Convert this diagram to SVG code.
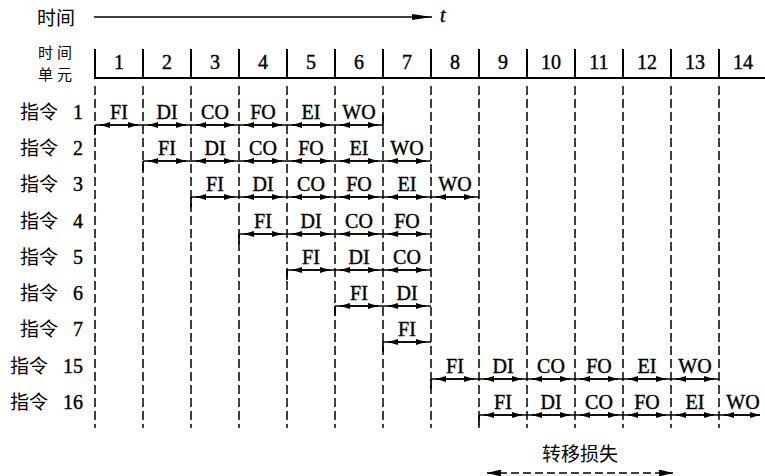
<svg xmlns="http://www.w3.org/2000/svg" width="765" height="476" viewBox="0 0 765 476">
<style>
.cn{font-family:"Noto Sans CJK SC","Noto Sans CJK JP",sans-serif;font-size:19px;fill:#000}
.cn2{font-family:"Noto Sans CJK SC","Noto Sans CJK JP",sans-serif;font-size:15px;letter-spacing:4px;fill:#000}
.lt{font-family:"Liberation Serif","Times New Roman",serif;font-size:20px;fill:#000;stroke:#000;stroke-width:0.4}
.st{text-anchor:middle}
.en{text-anchor:end}
.dash{stroke:#000;stroke-width:1.5;stroke-dasharray:9 4;fill:none}
.solid{stroke:#000;stroke-width:2;fill:none}
.base{stroke:#000;stroke-width:1.7;fill:none}
.arr{stroke:#000;stroke-width:1.7;fill:none;marker-start:url(#ah);marker-end:url(#ah)}
.tick{stroke:#000;stroke-width:1.7}
</style>
<defs>
<marker id="ah" viewBox="0 0 10 6" refX="10" refY="3" markerWidth="10" markerHeight="6" markerUnits="userSpaceOnUse" orient="auto-start-reverse">
<path d="M0,0 L10,3 L0,6 z" fill="#000"/>
</marker>
<marker id="ahl" viewBox="0 0 20 6" refX="20" refY="3" markerWidth="20" markerHeight="6" markerUnits="userSpaceOnUse" orient="auto">
<path d="M0,0 L20,3 L0,6 z" fill="#000"/>
</marker>
<marker id="ahd" viewBox="0 0 14 7" refX="14" refY="3.5" markerWidth="14" markerHeight="7" markerUnits="userSpaceOnUse" orient="auto-start-reverse">
<path d="M0,0 L14,3.5 L0,7 z" fill="#000"/>
</marker>
</defs>

<g id="time-axis">
<text class="cn" x="37" y="25">时间</text>
<line x1="94" y1="17" x2="432" y2="17" stroke="#000" stroke-width="1.3" marker-end="url(#ahl)"/>
<text class="lt" x="440" y="22" font-style="italic" stroke-width="0">t</text>
</g>

<g id="time-units">
<text class="cn2" x="38" y="58">时间</text>
<text class="cn2" x="38" y="80">单元</text>
<path class="solid" d="M95,49V78H765M143,49V78M191,49V78M239,49V78M287,49V78M335,49V78M383,49V78M431,49V78M479,49V78M527,49V78M575,49V78M623,49V78M671,49V78M719,49V78"/>
<g class="lt st">
<text x="119" y="69">1</text><text x="167" y="69">2</text><text x="215" y="69">3</text><text x="263" y="69">4</text><text x="311" y="69">5</text><text x="359" y="69">6</text><text x="407" y="69">7</text><text x="455" y="69">8</text><text x="503" y="69">9</text><text x="551" y="69">10</text><text x="599" y="69">11</text><text x="647" y="69">12</text><text x="695" y="69">13</text><text x="743" y="69">14</text>
</g>
</g>

<g id="grid">
<path class="dash" d="M95,86V428M143,86V428M191,86V428M239,86V428M287,86V428M335,86V428M383,86V428M431,86V428M479,86V428M527,86V428M575,86V428M623,86V428M671,86V428M719,86V428"/>
</g>

<g id="row-1">
<text class="cn en" x="58" y="119">指令</text><text class="lt en" x="83" y="119">1</text>
<g class="lt st"><text x="119" y="119">FI</text><text x="167" y="119">DI</text><text x="215" y="119">CO</text><text x="263" y="119">FO</text><text x="311" y="119">EI</text><text x="359" y="119">WO</text></g>
</g>
<g id="row-2">
<text class="cn en" x="58" y="155">指令</text><text class="lt en" x="83" y="155">2</text>
<g class="lt st"><text x="167" y="155">FI</text><text x="215" y="155">DI</text><text x="263" y="155">CO</text><text x="311" y="155">FO</text><text x="359" y="155">EI</text><text x="407" y="155">WO</text></g>
</g>
<g id="row-3">
<text class="cn en" x="58" y="191">指令</text><text class="lt en" x="83" y="191">3</text>
<g class="lt st"><text x="215" y="191">FI</text><text x="263" y="191">DI</text><text x="311" y="191">CO</text><text x="359" y="191">FO</text><text x="407" y="191">EI</text><text x="455" y="191">WO</text></g>
</g>
<g id="row-4">
<text class="cn en" x="58" y="228">指令</text><text class="lt en" x="83" y="228">4</text>
<g class="lt st"><text x="263" y="228">FI</text><text x="311" y="228">DI</text><text x="359" y="228">CO</text><text x="407" y="228">FO</text></g>
</g>
<g id="row-5">
<text class="cn en" x="58" y="264">指令</text><text class="lt en" x="83" y="264">5</text>
<g class="lt st"><text x="311" y="264">FI</text><text x="359" y="264">DI</text><text x="407" y="264">CO</text></g>
</g>
<g id="row-6">
<text class="cn en" x="58" y="300">指令</text><text class="lt en" x="83" y="300">6</text>
<g class="lt st"><text x="359" y="300">FI</text><text x="407" y="300">DI</text></g>
</g>
<g id="row-7">
<text class="cn en" x="58" y="336">指令</text><text class="lt en" x="83" y="336">7</text>
<g class="lt st"><text x="407" y="336">FI</text></g>
</g>
<g id="row-15">
<text class="cn en" x="48" y="373">指令</text><text class="lt en" x="83" y="373">15</text>
<g class="lt st"><text x="455" y="373">FI</text><text x="503" y="373">DI</text><text x="551" y="373">CO</text><text x="599" y="373">FO</text><text x="647" y="373">EI</text><text x="695" y="373">WO</text></g>
</g>
<g id="row-16">
<text class="cn en" x="48" y="409">指令</text><text class="lt en" x="83" y="409">16</text>
<g class="lt st"><text x="503" y="409">FI</text><text x="551" y="409">DI</text><text x="599" y="409">CO</text><text x="647" y="409">FO</text><text x="695" y="409">EI</text><text x="743" y="409">WO</text></g>
</g>

<g id="branch-loss">
<text class="cn" x="580" y="461" text-anchor="middle" font-size="20">转移损失</text>
</g>

<g id="connectors">
<path class="base" d="M95,125H383"/>
<path class="tick" d="M95,125v10M383,115v10"/>
<line class="arr" x1="100" y1="125" x2="138" y2="125"/><line class="arr" x1="148" y1="125" x2="186" y2="125"/><line class="arr" x1="196" y1="125" x2="234" y2="125"/><line class="arr" x1="244" y1="125" x2="282" y2="125"/><line class="arr" x1="292" y1="125" x2="330" y2="125"/><line class="arr" x1="340" y1="125" x2="378" y2="125"/>
<path class="base" d="M143,161H431"/>
<path class="tick" d="M143,161v10"/>
<line class="arr" x1="148" y1="161" x2="186" y2="161"/><line class="arr" x1="196" y1="161" x2="234" y2="161"/><line class="arr" x1="244" y1="161" x2="282" y2="161"/><line class="arr" x1="292" y1="161" x2="330" y2="161"/><line class="arr" x1="340" y1="161" x2="378" y2="161"/><line class="arr" x1="388" y1="161" x2="426" y2="161"/>
<path class="base" d="M191,197H479"/>
<path class="tick" d="M191,197v10"/>
<line class="arr" x1="196" y1="197" x2="234" y2="197"/><line class="arr" x1="244" y1="197" x2="282" y2="197"/><line class="arr" x1="292" y1="197" x2="330" y2="197"/><line class="arr" x1="340" y1="197" x2="378" y2="197"/><line class="arr" x1="388" y1="197" x2="426" y2="197"/><line class="arr" x1="436" y1="197" x2="474" y2="197"/>
<path class="base" d="M239,234H431"/>
<path class="tick" d="M239,234v10"/>
<line class="arr" x1="244" y1="234" x2="282" y2="234"/><line class="arr" x1="292" y1="234" x2="330" y2="234"/><line class="arr" x1="340" y1="234" x2="378" y2="234"/><line class="arr" x1="388" y1="234" x2="426" y2="234"/>
<path class="base" d="M287,270H431"/>
<path class="tick" d="M287,270v10"/>
<line class="arr" x1="292" y1="270" x2="330" y2="270"/><line class="arr" x1="340" y1="270" x2="378" y2="270"/><line class="arr" x1="388" y1="270" x2="426" y2="270"/>
<path class="base" d="M335,306H431"/>
<path class="tick" d="M335,306v10"/>
<line class="arr" x1="340" y1="306" x2="378" y2="306"/><line class="arr" x1="388" y1="306" x2="426" y2="306"/>
<path class="base" d="M383,342H431"/>
<path class="tick" d="M383,342v10"/>
<line class="arr" x1="388" y1="342" x2="426" y2="342"/>
<path class="base" d="M431,379H719"/>
<path class="tick" d="M431,379v10"/>
<line class="arr" x1="436" y1="379" x2="474" y2="379"/><line class="arr" x1="484" y1="379" x2="522" y2="379"/><line class="arr" x1="532" y1="379" x2="570" y2="379"/><line class="arr" x1="580" y1="379" x2="618" y2="379"/><line class="arr" x1="628" y1="379" x2="666" y2="379"/><line class="arr" x1="676" y1="379" x2="714" y2="379"/>
<path class="base" d="M479,415H760"/>
<path class="tick" d="M479,415v10"/>
<line class="arr" x1="484" y1="415" x2="522" y2="415"/><line class="arr" x1="532" y1="415" x2="570" y2="415"/><line class="arr" x1="580" y1="415" x2="618" y2="415"/><line class="arr" x1="628" y1="415" x2="666" y2="415"/><line class="arr" x1="676" y1="415" x2="714" y2="415"/><line class="arr" x1="724" y1="415" x2="760" y2="415"/>
<line x1="487" y1="473" x2="673" y2="473" stroke="#000" stroke-width="1.5" stroke-dasharray="8 4" marker-start="url(#ahd)" marker-end="url(#ahd)"/>
</g>
</svg>
